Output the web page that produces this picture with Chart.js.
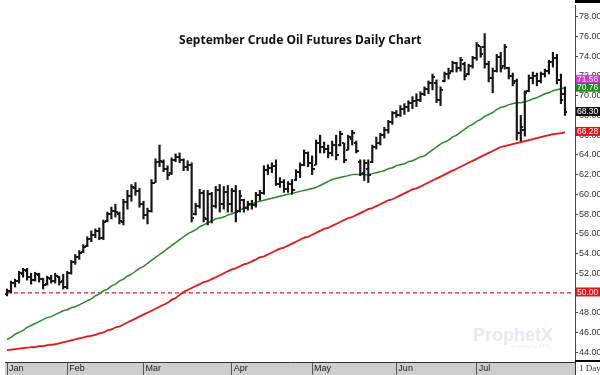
<!DOCTYPE html>
<html><head><meta charset="utf-8">
<script src="https://cdn.jsdelivr.net/npm/chart.js@4.4.1/dist/chart.umd.min.js"></script>
<style>html,body{margin:0;padding:0;background:#fff;overflow:hidden}#wrap{width:600px;height:375px;position:relative}</style>
</head><body><div id="wrap"><canvas id="c" width="600" height="375"></canvas></div>
<script>
const titleText = 'September Crude Oil Futures Daily Chart';
const highs = [50.4,51.2,51.4,52.2,52.5,52.5,52.0,52.1,52.0,51.5,
51.7,51.8,52.0,51.7,51.9,52.2,53.3,53.9,54.3,54.9,
55.7,56.3,56.5,56.6,57.4,58.2,58.7,59.0,58.2,59.5,
60.4,61.0,61.2,60.6,59.3,58.6,61.5,63.6,65.0,63.5,
62.9,63.7,64.1,64.2,63.6,63.4,63.2,59.1,60.5,60.4,
60.4,60.2,60.8,61.0,60.8,60.9,60.6,60.9,60.4,59.5,
59.3,59.4,60.2,60.4,62.9,63.0,63.2,63.5,61.7,61.5,
61.3,61.5,62.5,63.2,64.5,64.3,63.9,65.5,66.0,65.3,
65.0,65.4,66.0,66.4,65.2,66.0,66.5,65.4,63.5,63.5,
63.5,65.0,65.8,66.2,66.8,67.5,68.4,68.5,69.0,69.2,
69.5,69.9,70.2,70.4,70.9,71.5,72.2,71.6,70.9,72.4,
72.8,73.5,73.4,73.9,73.4,73.2,74.0,75.4,75.0,76.3,
73.5,72.8,74.2,74.4,75.2,72.9,72.3,71.7,68.0,70.5,
72.1,72.4,72.3,72.4,72.7,73.6,74.4,74.2,72.2,70.9];
const lows = [49.7,50.0,50.6,51.0,51.6,51.3,50.9,51.2,51.1,50.4,
50.8,51.0,51.0,50.8,50.4,50.4,51.9,52.9,53.4,54.1,
54.7,55.2,55.6,55.4,55.4,57.2,57.5,57.7,57.0,56.9,
58.5,59.3,59.9,58.7,57.5,57.0,58.2,61.2,62.8,62.3,
61.5,62.0,63.3,63.2,62.4,62.4,57.2,57.9,58.6,57.2,
56.9,57.1,58.6,58.2,58.5,58.2,58.2,57.2,58.2,58.2,
58.4,58.5,58.7,59.4,60.0,62.0,62.2,60.9,60.7,60.2,
60.2,60.0,61.4,61.7,62.9,62.8,62.0,63.0,64.2,64.2,
63.7,63.9,63.5,64.9,63.2,64.5,65.0,64.2,61.9,61.4,
61.2,63.2,64.6,65.0,65.7,66.2,67.1,67.8,67.9,68.1,
68.4,68.7,68.9,69.4,70.0,70.2,70.6,69.3,69.0,71.4,
71.7,72.4,72.4,72.5,71.6,72.1,72.8,73.6,73.9,72.8,
71.4,70.3,72.4,72.4,72.7,71.7,71.0,65.5,65.4,65.9,
70.4,71.2,71.0,71.3,71.9,72.2,72.9,71.2,69.2,68.0];
const opens = [49.9,50.2,51.0,51.2,51.9,52.2,51.6,51.3,51.8,51.4,
50.9,51.4,51.2,51.6,51.2,50.6,52.0,53.1,53.6,54.2,
54.8,55.5,55.9,56.3,55.6,57.3,58.0,58.3,58.0,57.2,
59.2,59.8,60.6,60.3,59.0,57.9,58.3,61.2,63.3,63.3,
62.6,62.2,63.5,63.8,63.5,62.8,63.0,58.0,58.8,60.1,
57.5,60.0,58.8,60.4,59.0,60.2,59.0,60.3,58.3,59.4,
58.6,59.0,58.9,59.9,60.1,62.5,62.7,62.9,61.0,61.3,
60.5,61.0,61.5,62.3,63.0,64.2,63.2,63.0,65.2,64.8,
64.6,64.2,65.0,65.0,65.2,64.5,65.6,65.2,63.3,62.2,
62.6,63.3,64.8,65.2,66.0,66.5,67.3,68.2,68.0,68.7,
68.9,69.3,69.5,69.6,70.2,70.7,71.3,71.3,69.6,71.5,
72.2,72.5,73.3,72.8,73.2,72.2,73.0,73.8,75.0,74.9,
73.2,71.8,72.5,73.9,73.0,72.8,72.0,71.5,66.2,66.5,
70.5,71.8,72.0,71.5,72.2,72.5,73.4,73.8,71.6,70.2];
const closes = [50.2,51.0,51.2,52.0,52.3,51.6,51.3,51.9,51.4,50.8,
51.5,51.2,51.7,51.1,50.6,52.0,53.1,53.6,54.1,54.7,
55.5,55.9,56.3,55.6,57.2,58.0,58.3,58.2,57.3,59.2,
59.8,60.7,60.3,59.0,57.9,58.3,61.2,63.3,63.4,62.6,
62.0,63.5,63.8,63.5,62.8,63.0,57.6,58.8,60.1,57.6,
60.0,58.8,60.4,59.0,60.2,59.0,60.3,58.2,59.8,58.6,
59.0,58.9,59.9,60.1,62.5,62.7,62.9,61.0,61.3,60.5,
61.0,60.4,62.3,63.0,64.2,63.2,62.6,65.2,64.8,64.6,
64.2,65.0,64.0,66.1,63.5,65.8,66.2,64.4,62.1,63.2,
62.0,64.8,65.2,66.0,66.5,67.3,68.2,68.0,68.7,68.9,
69.3,69.5,69.6,70.2,70.7,71.3,71.9,69.6,70.6,72.2,
72.3,73.3,72.8,73.6,72.0,73.0,73.8,75.1,74.2,73.2,
71.8,72.5,73.9,72.8,74.9,72.0,71.3,66.2,66.8,70.3,
71.8,72.0,71.5,72.2,72.5,73.4,73.8,71.6,69.6,68.3];
const maGreen = [45.3,45.5,45.8,46.0,46.2,46.5,46.7,46.9,47.1,47.3,
47.5,47.6,47.8,48.0,48.2,48.3,48.5,48.6,48.8,49.0,
49.2,49.4,49.7,49.9,50.2,50.4,50.7,50.9,51.2,51.4,
51.7,51.9,52.2,52.5,52.7,53.0,53.3,53.6,53.9,54.2,
54.5,54.8,55.1,55.4,55.7,56.0,56.2,56.4,56.7,56.9,
57.1,57.3,57.5,57.6,57.7,57.9,58.0,58.2,58.4,58.6,
58.8,59.0,59.2,59.3,59.4,59.5,59.6,59.7,59.8,59.9,
60.0,60.1,60.2,60.3,60.4,60.5,60.6,60.7,60.9,61.1,
61.3,61.5,61.6,61.7,61.8,61.9,62.0,62.0,62.0,62.0,
62.0,62.1,62.2,62.3,62.4,62.6,62.7,62.9,63.0,63.1,
63.3,63.4,63.6,63.8,63.9,64.2,64.5,64.8,65.1,65.3,
65.5,65.8,66.0,66.3,66.6,66.9,67.1,67.4,67.6,67.9,
68.1,68.3,68.6,68.8,68.9,69.1,69.2,69.3,69.3,69.4,
69.5,69.7,69.8,70.0,70.2,70.3,70.5,70.6,70.7,70.8];
const maRed = [44.2,44.25,44.3,44.35,44.4,44.45,44.5,44.5,44.6,44.6,
44.7,44.75,44.8,44.9,45.0,45.1,45.2,45.3,45.4,45.5,
45.6,45.65,45.75,45.9,46.0,46.2,46.3,46.5,46.6,46.8,
47.0,47.2,47.4,47.6,47.8,48.0,48.2,48.4,48.6,48.8,
49.0,49.3,49.5,49.8,50.1,50.3,50.5,50.7,50.9,51.1,
51.2,51.4,51.6,51.8,52.0,52.2,52.4,52.5,52.7,52.9,
53.0,53.2,53.4,53.6,53.7,53.9,54.1,54.3,54.5,54.6,
54.8,55.0,55.2,55.4,55.6,55.7,55.9,56.1,56.3,56.5,
56.6,56.8,57.0,57.2,57.4,57.6,57.7,57.9,58.1,58.3,
58.5,58.6,58.8,59.0,59.2,59.4,59.5,59.7,59.9,60.1,
60.3,60.5,60.6,60.8,61.0,61.2,61.4,61.6,61.8,62.0,
62.2,62.4,62.6,62.8,63.0,63.2,63.4,63.6,63.8,64.0,
64.2,64.4,64.6,64.8,64.9,65.0,65.1,65.2,65.3,65.4,
65.5,65.6,65.7,65.8,65.9,66.0,66.1,66.15,66.2,66.3];
const refLevel = 50;
const monthNames = ['Jan','Feb','Mar','Apr','May','Jun','Jul'];
const monthStarts = [0,15,34,56,76,97,117];
const emptySlots = 2;
const yTicks = [44,46,48,50,52,54,56,58,60,62,64,66,68,70,72,74,76,78];
const tagValues = [71.56,70.76,68.30,66.28,50.00];
const periodLabel = '1 Day';
const brandText = 'ProphetX';
</script>
<script>
const tagColors = ['#e02ee0','#1c8a1c','#111111','#e41414','#e41414'];
const labels = highs.concat(new Array(emptySlots).fill(null)).map((_, i) => String(i));
const ranges = highs.map((h, i) => [lows[i], h]);
const refLine = labels.map(() => refLevel);

function tickImg(side) {
  const c = document.createElement('canvas');
  c.width = 5; c.height = 2;
  const g = c.getContext('2d');
  g.fillStyle = '#1a1a1a';
  if (side === 'L') g.fillRect(0, 0, 2, 2); else g.fillRect(3, 0, 2, 2);
  return c;
}

const overlay = {
  id: 'overlay',
  beforeDatasetsDraw(chart) {
    const ctx = chart.ctx, ca = chart.chartArea;
    ctx.save();
    ctx.font = 'bold 18px "Liberation Sans"';
    ctx.fillStyle = '#e6e9ee';
    ctx.textAlign = 'right';
    ctx.textBaseline = 'alphabetic';
    ctx.fillText(brandText, ca.right - 22, ca.bottom - 21);
    ctx.font = '5px "Liberation Sans"';
    ctx.fillText('powered by DTN', ca.right - 26, ca.bottom - 14);
    ctx.restore();
  },
  afterDraw(chart) {
    const ctx = chart.ctx, ca = chart.chartArea, ys = chart.scales.y;
    const W = chart.width, H = chart.height;
    ctx.save();
    // title
    ctx.font = 'bold 12px "Noto Sans"';
    ctx.fillStyle = '#111';
    ctx.textAlign = 'center';
    ctx.textBaseline = 'alphabetic';
    ctx.fillText(titleText, ca.left + ca.width * 0.518, ca.top + 39);
    // right panel bars
    ctx.fillStyle = '#000';
    ctx.fillRect(ca.right, 0, W - ca.right, 3);
    ctx.fillRect(ca.right, ca.bottom - 2, W - ca.right, 2);
    // value tags
    ctx.font = '8.5px "Liberation Sans"';
    ctx.textAlign = 'left';
    ctx.textBaseline = 'middle';
    tagValues.forEach((v, i) => {
      const py = ys.getPixelForValue(v) - 1;
      ctx.fillStyle = tagColors[i];
      ctx.fillRect(ca.right + 1, py - 4.5, W - ca.right - 1, 9);
      ctx.fillStyle = '#fff';
      ctx.fillText(v.toFixed(2), ca.right + 2, py + 0.5);
    });
    // period cell
    ctx.fillStyle = '#ffffff';
    ctx.fillRect(ca.right + 1, ca.bottom + 1, W - ca.right - 1, H - ca.bottom - 1);
    ctx.strokeStyle = '#333';
    ctx.lineWidth = 1;
    ctx.beginPath();
    ctx.moveTo(ca.right + 0.5, ca.bottom);
    ctx.lineTo(ca.right + 0.5, H);
    ctx.stroke();
    ctx.fillStyle = '#333';
    ctx.font = '9px "Liberation Serif"';
    ctx.fillText(periodLabel, ca.right + 4, ca.bottom + 7);
    ctx.restore();
  }
};

new Chart(document.getElementById('c'), {
  type: 'bar',
  data: {
    labels: labels,
    datasets: [
      { type: 'line', data: opens, showLine: false, pointStyle: tickImg('L'), pointRadius: 3, order: 0 },
      { type: 'line', data: closes, showLine: false, pointStyle: tickImg('R'), pointRadius: 3, order: 0 },
      { type: 'bar', data: ranges, backgroundColor: '#151515', borderWidth: 0, barThickness: 1.5, order: 1 },
      { type: 'line', data: maGreen, borderColor: '#2a872a', borderWidth: 1.5, pointRadius: 0, tension: 0.3, order: 2 },
      { type: 'line', data: maRed, borderColor: '#e01818', borderWidth: 1.8, pointRadius: 0, tension: 0.3, order: 3 },
      { type: 'line', data: refLine, borderColor: '#e01818', borderWidth: 1.2, borderDash: [4, 3], pointRadius: 0, order: 4 }
    ]
  },
  options: {
    responsive: false,
    devicePixelRatio: 1,
    animation: false,
    events: [],
    layout: { padding: 0 },
    plugins: { legend: { display: false }, tooltip: { enabled: false }, title: { display: false } },
    scales: {
      x: {
        offset: true,
        backgroundColor: '#cdcdcd',
        afterBuildTicks: s => { s.ticks = monthStarts.map(v => ({ value: v })); },
        afterFit: s => { s.height = 13; s.paddingLeft = 0; s.paddingRight = 0; },
        ticks: { autoSkip: false, maxRotation: 0, align: 'start', labelOffset: 2, padding: -12,
          font: { family: '"Liberation Sans"', size: 9 }, color: '#222',
          callback: (v, i) => monthNames[i] },
        grid: { offset: false, drawOnChartArea: false, drawTicks: true, tickLength: 13, color: '#555', lineWidth: 1 },
        border: { display: true, color: '#333', width: 1 }
      },
      y: {
        position: 'right',
        min: 43, max: 79.2,
        afterBuildTicks: s => { s.ticks = yTicks.map(v => ({ value: v })); },
        afterFit: s => { s.width = 25; s.paddingTop = 0; s.paddingBottom = 0; },
        ticks: { callback: v => Number(v).toFixed(2), font: { family: '"Liberation Sans"', size: 9 }, color: '#333', padding: 1 },
        grid: { drawOnChartArea: false, drawTicks: true, tickLength: 3, color: '#444' },
        border: { display: true, color: '#444', width: 1 }
      }
    }
  },
  plugins: [overlay]
});
</script>
</body></html>
